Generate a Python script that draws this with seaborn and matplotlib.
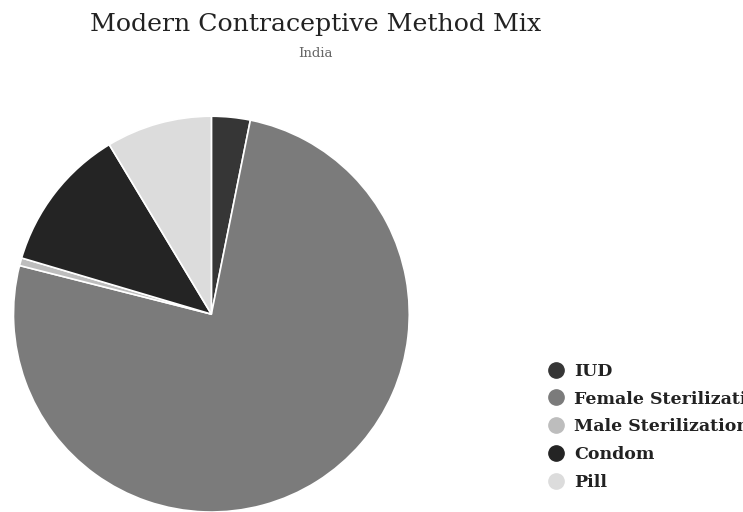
import matplotlib
matplotlib.use("Agg")
import matplotlib.pyplot as plt
from matplotlib.lines import Line2D
import seaborn as sns

METHODS = ['IUD', 'Female Sterilization', 'Male Sterilization', 'Condom', 'Pill']
SHARE = [1.5, 36.0, 0.3, 5.6, 4.1]  # % of women using each modern method
COLORS = ['#363636', '#7b7b7b', '#bdbdbd', '#242424', '#dcdcdc']

sns.set_theme(style="white")
plt.rcParams['font.family'] = ['DejaVu Serif', 'DejaVu Sans']

fig = plt.figure(figsize=(7.43, 5.12), dpi=100)
ax = fig.add_axes([0.018, 0.0, 0.533, 0.773])

ax.pie(SHARE, colors=COLORS, startangle=90, counterclock=False,
       radius=1.0, wedgeprops=dict(edgecolor='white', linewidth=1.2))
ax.set_xlim(-1, 1)
ax.set_ylim(-1, 1)
ax.set_aspect('equal')
ax.axis('off')

fig.text(0.425, 0.953, 'Modern Contraceptive Method Mix', ha='center', va='center',
         fontsize=18.2, color='#222222')
fig.text(0.425, 0.896, 'India', ha='center', va='center', fontsize=9.5, color='#666666')

# legend runs off the right edge, as in the original chart
handles = [Line2D([0], [0], marker='o', linestyle='', markersize=11,
                  markerfacecolor=c, markeredgecolor=c) for c in COLORS]
leg = fig.legend(handles, METHODS, loc='upper left', bbox_to_anchor=(0.715, 0.322),
                 frameon=False, handletextpad=0.55, labelspacing=0.62,
                 handlelength=1.0, prop={'weight': 'bold', 'size': 12.5})
for t in leg.get_texts():
    t.set_color('#222222')

fig.savefig('out.png', dpi=100)
